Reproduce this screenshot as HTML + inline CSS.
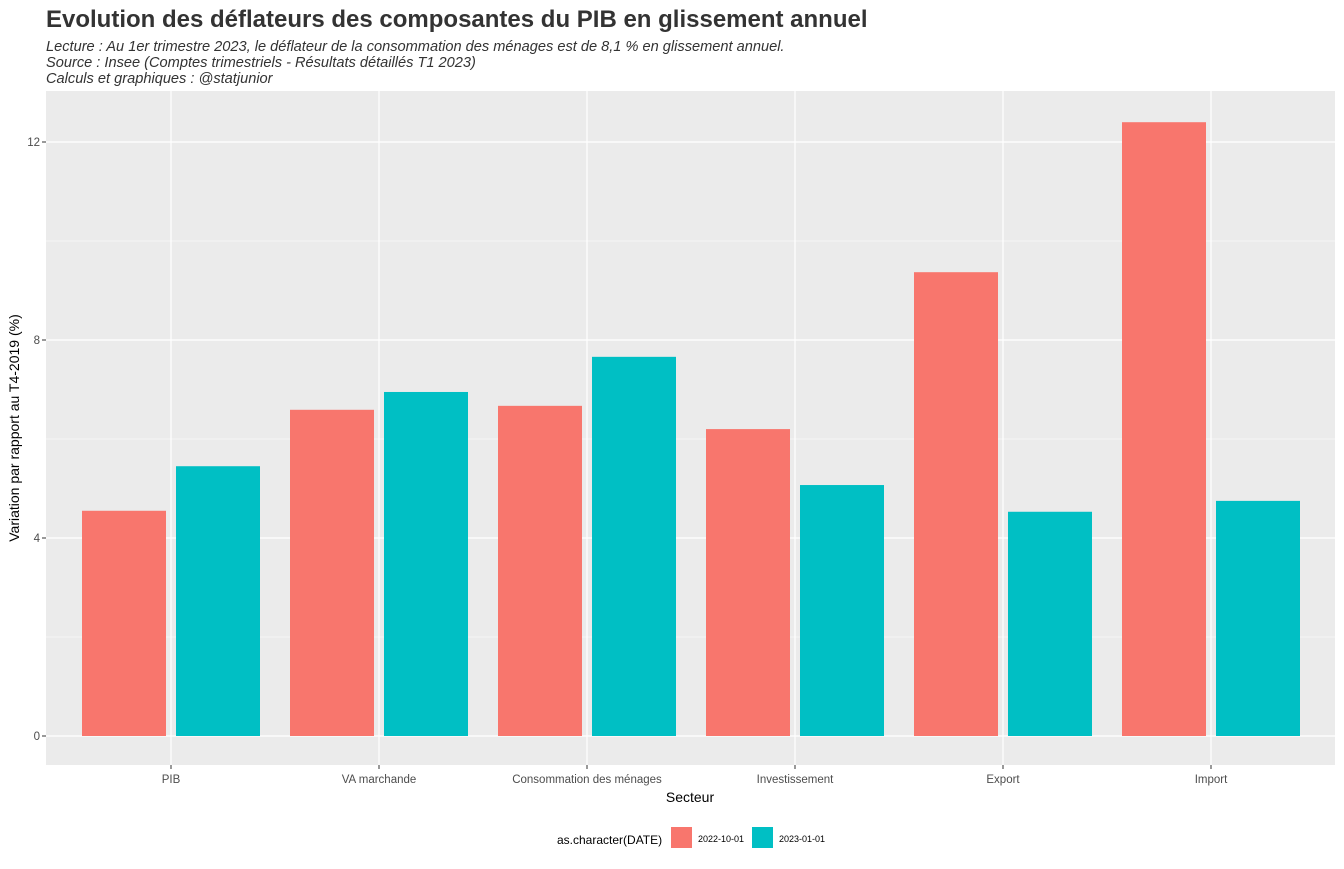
<!DOCTYPE html>
<html><head><meta charset="utf-8"><style>
body{margin:0;background:#fff;font-family:"Liberation Sans",Arial,sans-serif;}
</style></head><body>
<svg width="1344" height="864" xmlns="http://www.w3.org/2000/svg" font-family="Liberation Sans, Arial, sans-serif">
<text x="46" y="27" font-size="24" font-weight="bold" fill="#333">Evolution des déflateurs des composantes du PIB en glissement annuel</text>
<g font-size="14.6" font-style="italic" fill="#333">
<text x="46" y="51">Lecture : Au 1er trimestre 2023, le déflateur de la consommation des ménages est de 8,1 % en glissement annuel.</text>
<text x="46" y="67">Source : Insee (Comptes trimestriels - Résultats détaillés T1 2023)</text>
<text x="46" y="83">Calculs et graphiques : @statjunior</text>
</g>
<rect x="46" y="91" width="1289" height="674" fill="#EBEBEB"/>
<g id="grid"></g>
<g id="bars"></g>
<g id="axes"></g>
<text x="690" y="802" font-size="14" text-anchor="middle" fill="#000">Secteur</text>
<text transform="translate(19,428) rotate(-90)" font-size="14" text-anchor="middle" fill="#000">Variation par rapport au T4-2019 (%)</text>
<g>
<text x="557" y="844" font-size="12" fill="#000">as.character(DATE)</text>
<rect x="671" y="827" width="21" height="21" fill="#F8766D"/>
<text x="698" y="842" font-size="9" fill="#000">2022-10-01</text>
<rect x="752" y="827" width="21" height="21" fill="#00BFC4"/>
<text x="779" y="842" font-size="9" fill="#000">2023-01-01</text>
</g>
</svg>
<script>
const categories=["PIB","VA marchande","Consommation des ménages","Investissement","Export","Import"];
const series2022=[4.55,6.59,6.67,6.20,9.37,12.40];
const series2023=[5.45,6.95,7.66,5.07,4.53,4.75];
const yTicks=[0,4,8,12];
const yMinor=[2,6,10];
const NS="http://www.w3.org/2000/svg";
function y(v){return 736-v*49.5;}
function xc(i){return 171+i*208;}
function mk(tag,attrs,parent){const e=document.createElementNS(NS,tag);for(const k in attrs)e.setAttribute(k,attrs[k]);document.getElementById(parent).appendChild(e);return e;}
yMinor.forEach(v=>{const l=mk('line',{x1:46,x2:1335,y1:y(v),y2:y(v),stroke:'#fff','stroke-width':0.6},'grid');

});
yTicks.forEach(v=>{const l=mk('line',{x1:46,x2:1335,y1:y(v),y2:y(v),stroke:'#fff','stroke-width':1.2},'grid');


const tk=mk('line',{x1:42,x2:46,y1:y(v),y2:y(v),stroke:'#333','stroke-width':1},'axes');


const t=mk('text',{x:40,y:y(v)+4,'font-size':11.5,'text-anchor':'end',fill:'#4D4D4D'},'axes');t.textContent=v;

});
categories.forEach((c,i)=>{const l=mk('line',{x1:xc(i),x2:xc(i),y1:91,y2:765,stroke:'#fff','stroke-width':1.2},'grid');


const tk=mk('line',{x1:xc(i),x2:xc(i),y1:765,y2:769,stroke:'#333','stroke-width':1},'axes');


const t=mk('text',{x:xc(i),y:783,'font-size':11.5,'text-anchor':'middle',fill:'#4D4D4D'},'axes');t.textContent=c;


const b1=mk('rect',{x:xc(i)-89,width:84,y:y(series2022[i]),height:y(0)-y(series2022[i]),fill:'#F8766D'},'bars');


const b2=mk('rect',{x:xc(i)+5,width:84,y:y(series2023[i]),height:y(0)-y(series2023[i]),fill:'#00BFC4'},'bars');

});
</script>
</body></html>
